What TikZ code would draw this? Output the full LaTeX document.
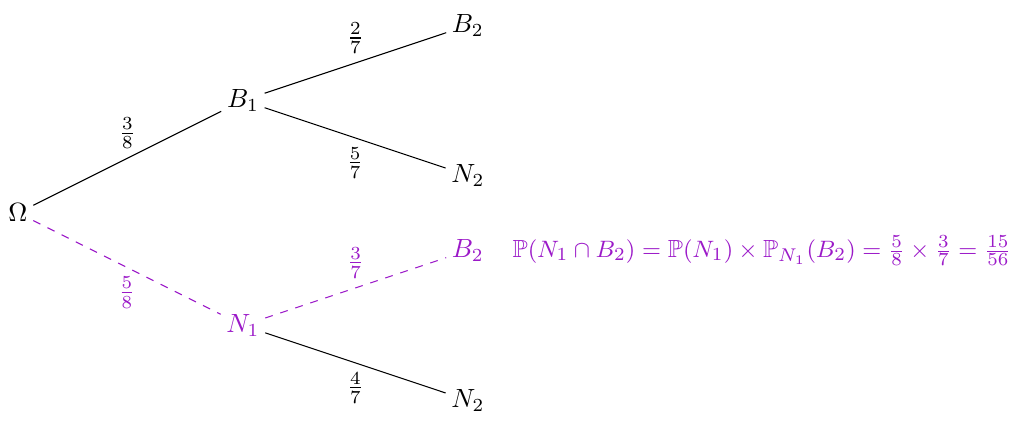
\documentclass[tikz,border=0pt]{standalone}
\usepackage{amsmath, amssymb}
\usepackage{tikz}
\usetikzlibrary{positioning}
\usepackage{xcolor}
\definecolor{mauve}{RGB}{155,25,200}

\begin{document}
\begin{tikzpicture}[
    event/.style={inner sep=2pt},
    branch/.style={thin},
    chosen/.style={thin, dashed, mauve},
    proba/.style={font=\normalsize}
]
\useasboundingbox (-0.24,-2.85) rectangle (13.35,2.84);

% Root and first draw
\node[event] (omega) at (0,0) {$\Omega$};
\node[event] (b1) at (3,1.5) {$B_1$};
\node[event, mauve] (n1) at (3,-1.5) {$N_1$};

\draw[branch] (omega) -- node[above, proba] {$\frac{3}{8}$} (b1);
\draw[chosen] (omega) -- node[below, proba] {$\frac{5}{8}$} (n1);

% Second draw
\node[event] (b1b2) at (6,2.5) {$B_2$};
\node[event] (b1n2) at (6,0.5) {$N_2$};
\node[event, mauve] (n1b2) at (6,-0.5) {$B_2$};
\node[event] (n1n2) at (6,-2.5) {$N_2$};

\draw[branch] (b1) -- node[above, proba] {$\frac{2}{7}$} (b1b2);
\draw[branch] (b1) -- node[below, proba] {$\frac{5}{7}$} (b1n2);
\draw[chosen] (n1) -- node[above, proba, mauve] {$\frac{3}{7}$} (n1b2);
\draw[branch] (n1) -- node[below, proba] {$\frac{4}{7}$} (n1n2);

% Result
\node[right=0.3cm of n1b2, mauve, inner sep=0pt,
      font=\fontsize{9.4}{11}\selectfont] (result)
{$\mathbb{P}(N_1\cap B_2)=\mathbb{P}(N_1)\times\mathbb{P}_{N_1}(B_2)=\frac{5}{8}\times\frac{3}{7}=\frac{15}{56}$};

\end{tikzpicture}
\end{document}
